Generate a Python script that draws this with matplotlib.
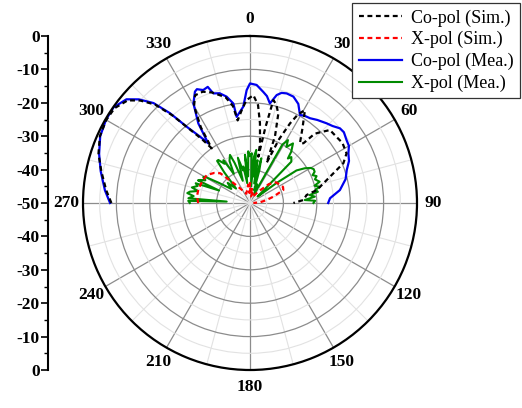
import numpy as np
import matplotlib
matplotlib.use('Agg')
import matplotlib.pyplot as plt

plt.rcParams['font.family'] = ['Liberation Serif', 'DejaVu Serif']

# angles in degrees (negative = 270..360 side), values in dB
co_sim_ang = [-90, -85, -78, -72, -66, -60, -55, -50, -47, -44, -41.5, -39.5, -37, -35,
              -33, -30, -27, -23, -19, -13, -10, -8.5, -5, -2, 1.8, 4.7, 7.1, 9.5, 10.2,
              11.5, 12.8, 15, 17.6, 20.5, 22.5, 24.5, 26.7, 28.5, 30.6, 34.9, 39.9, 41.8,
              43, 44.5, 47.6, 52.6, 57, 62.8, 66.9, 70.4, 73.3, 79, 82, 86.8, 90]
co_sim_db = [-8.5, -6.8, -4.5, -2.3, -0.8, -0.3, -0.5, -2.2, -5, -9, -15, -21, -26, -30,
             -23, -16.5, -13.8, -13.8, -15, -17.5, -20.5, -25, -22, -19.2, -17.7, -20.6, -25.9, -31.8, -35.9,
             -27, -18.4, -19.5, -22, -28.6, -37, -29, -23.3, -19.7, -17.7, -22.5, -26.7, -26,
             -21.7, -20.4, -17.6, -17.4, -17.0, -17.5, -19.6, -23.5, -26, -29.6, -32.9, -34, -37]

x_sim_ang = [-90, -83, -75, -65, -57, -50, -45, -40, -33, -22, -12, -6, -3, 0, 3, 6, 9,
             15, 25, 35, 45, 52, 59, 64, 68.7, 74.9, 80, 86, 90]
x_sim_db = [-34.5, -34, -34, -34.3, -34.6, -36, -37.4, -42, -45, -47, -46, -44.5, -47, -44, -47.5, -45, -48,
            -47, -48, -46, -42, -40, -39.5, -39, -39.3, -42.8, -45, -47, -49]

co_mea_ang = [-90, -85, -78, -72, -66, -60, -55, -50, -47, -44, -41.7, -39.7, -37, -35,
              -33, -29.6, -26.3, -25, -22.5, -20, -18.5, -15.5, -12.4, -9.5, -8.8, -4, -1.7,
              0, 3.2, 6.8, 9, 11.3, 13.9, 16, 18.5, 22.2, 26, 29.6, 32, 35.3, 39, 43.9, 47,
              50.3, 53, 56.9, 60, 63.2, 67, 71.2, 76, 81.8, 86.6, 90]
co_mea_db = [-8.1, -6.4, -4.3, -2.5, -0.9, -0.2, -0.1, -1.7, -4.5, -8.4, -14, -20.3, -25.1, -28.2,
             -21.6, -15.7, -12.8, -12.4, -13.4, -13.0, -15.4, -15.9, -17.4, -19.8, -23.9, -21.1, -16.2,
             -14.2, -14.6, -16.5, -17.6, -19.6, -16.7, -15.7, -15.4, -15.6, -17.0, -19.7, -19.2, -18.9, -18.0, -16.9, -16.2,
             -15.0, -14.8, -15.5, -15.8, -17.0, -17.8, -19.4, -20.5, -22.8, -26, -26.6]

x_mea_ang = [-90, -88, -86.5, -85.6, -83, -81, -79.3, -77, -75, -72, -70, -68, -66.5, -65.3,
             -63, -61, -59.7, -57, -53, -48, -44, -40, -38, -36.4, -33, -31.8, -29, -26,
             -22.6, -21, -18, -15, -12, -10.4, -8, -6, -4, -2, 0, 2, 4, 5, 6.8, 8, 10, 12,
             14.2, 16, 18, 21, 25, 29, 31.1, 33, 35.8, 38.8, 40.4, 42, 45, 47, 50, 53, 55,
             57.6, 60, 62, 64.2, 66, 68, 70, 73, 75, 77, 78.5, 80.6, 82.4, 84.4, 86.9, 88, 90]
x_mea_db = [-32.0, -31.5, -43, -31.5, -33, -31, -31.7, -34, -32, -33.5, -32.7, -40, -33, -33.5,
            -35, -34, -34.4, -39, -43, -41, -44, -38, -34, -34, -36, -34.9, -40, -36,
            -34.4, -37.1, -43, -36, -40, -38.9, -44, -35.5, -42, -34.5, -36, -35.1, -45, -36, -34, -42, -37, -44,
            -36.2, -40, -46, -44, -47, -30, -28, -30, -28, -30.3, -32.5, -31.5, -32.5, -44, -47, -40, -33,
            -30.6, -29, -28.4, -28.5, -29.5, -28.5, -29.3, -28.2, -30, -28.5, -30, -29.4, -32, -30.5, -33.6, -30.5, -31]

theta_labels = ['0', '30', '60', '90', '120', '150', '180', '210', '240', '270', '300', '330']
left_labels = ['0', '-10', '-20', '-30', '-40', '-50', '-40', '-30', '-20', '-10', '0']

fig = plt.figure(figsize=(5.22, 4.08), dpi=100)
ax = fig.add_axes([83/522, 38/408, 334/522, 334/408], projection='polar')
ax.set_theta_zero_location('N')
ax.set_theta_direction(-1)
ax.set_ylim(-50, 0)

ax.set_yticks([-40, -30, -20, -10])
ax.set_yticks([-45, -35, -25, -15, -5], minor=True)
ax.set_yticklabels([])
ax.set_xticks(np.radians(np.arange(0, 360, 30)))
ax.set_xticklabels(theta_labels, fontweight='bold', fontsize=12.5)
ax.set_xticks(np.radians(np.arange(15, 360, 30)), minor=True)
ax.grid(which='major', color='#8c8c8c', lw=0.9)
ax.grid(which='minor', color='#e2e2e2', lw=0.8)
ax.spines['polar'].set_linewidth(1.6)
ax.tick_params(axis='x', which='major', pad=5, direction='in', length=5, width=1.2)
ax.tick_params(axis='x', which='minor', direction='in', length=5, width=1.2)
ax.tick_params(axis='y', which='both', length=0)

def rad(a):
    return np.radians(a)

l3, = ax.plot(rad(co_mea_ang), co_mea_db, color='#0000ee', lw=1.6, label='Co-pol (Mea.)')
l4, = ax.plot(rad(x_mea_ang), x_mea_db, color='#008a00', lw=1.5, label='X-pol (Mea.)')
l1, = ax.plot(rad(co_sim_ang), co_sim_db, color='black', lw=1.6, dashes=(2.2, 1.6), label='Co-pol (Sim.)')
l2, = ax.plot(rad(x_sim_ang), x_sim_db, color='red', lw=1.6, dashes=(2.2, 1.6), label='X-pol (Sim.)')

# linear scale on the left
axl = fig.add_axes([48/522, 38/408, 0.0001, 334/408])
axl.set_ylim(0, 100)
axl.set_xticks([])
axl.set_yticks(np.arange(0, 101, 10))
axl.set_yticklabels(left_labels, fontweight='bold', fontsize=12.5)
axl.set_yticks(np.arange(5, 100, 10), minor=True)
axl.tick_params(axis='y', which='major', length=5, width=1.2, pad=1)
axl.tick_params(axis='y', which='minor', length=3, width=1.0)
for s in ['top', 'right', 'bottom']:
    axl.spines[s].set_visible(False)
axl.spines['left'].set_linewidth(1.5)
axl.patch.set_visible(False)

leg = fig.legend(handles=[l1, l2, l3, l4], loc='upper right', bbox_to_anchor=(520/522, 405/408),
                 fontsize=13, frameon=True, fancybox=False, edgecolor='#333333', framealpha=1,
                 handlelength=2.4, labelspacing=0.25, borderpad=0.35, handletextpad=0.5,
                 borderaxespad=0)
leg.get_frame().set_linewidth(0.9)

fig.savefig('out.png', dpi=100)
